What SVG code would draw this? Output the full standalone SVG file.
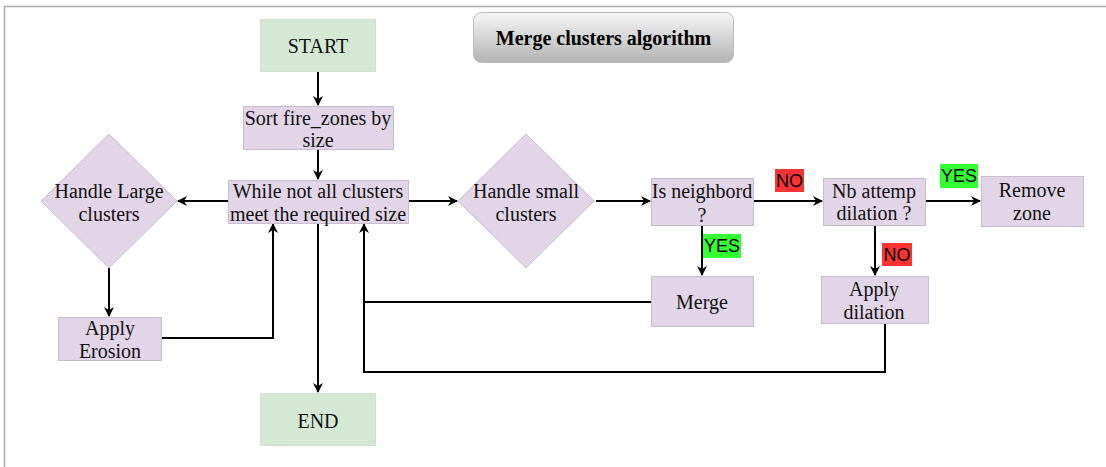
<svg xmlns="http://www.w3.org/2000/svg" width="1106" height="467" viewBox="0 0 1106 467">
<defs>
<linearGradient id="tg" x1="0" y1="0" x2="0" y2="1">
<stop offset="0" stop-color="#f7f7f7"/>
<stop offset="1" stop-color="#b3b3b3"/>
</linearGradient>
<marker id="ah" viewBox="0 0 10 10" refX="9" refY="5" markerWidth="5" markerHeight="5" orient="auto" markerUnits="strokeWidth">
<path d="M0,0 L10,5 L0,10 L3,5 Z" fill="#000"/>
</marker>
<style>
.p{fill:#e1d5e7;stroke:#c8bccf;stroke-width:1}
.g{fill:#d5e8d4;stroke:#d0e2cf;stroke-width:1}
.t{font-family:"Liberation Serif",serif;font-size:20px;fill:#111;text-anchor:middle}
.e{fill:none;stroke:#000;stroke-width:2}
.a{marker-end:url(#ah)}
.lt{font-family:"Liberation Sans",sans-serif;font-size:18px;fill:#000;text-anchor:middle}
</style>
</defs>
<rect width="1106" height="467" fill="#fff"/>
<path d="M4.5,467 V6.5 H1106" fill="none" stroke="#aaa" stroke-width="1.5"/>

<g id="connectors">
<path class="e a" d="M318,71 V105"/>
<path class="e a" d="M318,150 V179"/>
<path class="e a" d="M228,201 H178"/>
<path class="e a" d="M109,268 V316"/>
<path class="e a" d="M161,338 H273 V224"/>
<path class="e a" d="M318,223 V392"/>
<path class="e a" d="M651,302 H364 V224"/>
<path class="e" d="M885,323 V372 H364 V302"/>
<path class="e a" d="M408,201 H457"/>
<path class="e a" d="M596,201 H650"/>
<path class="e a" d="M753,201 H822"/>
<path class="e a" d="M925,201 H980"/>
<path class="e a" d="M702,225 V275"/>
<path class="e a" d="M875,225 V275"/>
</g>

<g id="title">
<rect x="473.5" y="12.5" width="260" height="50" rx="8" fill="url(#tg)" stroke="#bbb" stroke-width="1"/>
<text x="603.5" y="45" style="font-family:'Liberation Serif',serif;font-size:20px;font-weight:bold;text-anchor:middle">Merge clusters algorithm</text>
</g>

<g id="start">
<rect class="g" x="260.5" y="19.5" width="115" height="52"/>
<text class="t" x="318" y="53">START</text>
</g>

<g id="sort">
<rect class="p" x="243.5" y="106.5" width="150" height="43"/>
<text class="t" x="318" y="125">Sort fire_zones by</text>
<text class="t" x="318" y="147">size</text>
</g>

<g id="while">
<rect class="p" x="228.5" y="180.5" width="180" height="43"/>
<text class="t" x="318" y="198">While not all clusters</text>
<text class="t" x="318" y="221">meet the required size</text>
</g>

<g id="large">
<polygon class="p" points="109,134 177,201 109,268 41,201"/>
<text class="t" x="109" y="198">Handle Large</text>
<text class="t" x="109" y="221">clusters</text>
</g>

<g id="erosion">
<rect class="p" x="58.5" y="317.5" width="103" height="43"/>
<text class="t" x="110" y="335">Apply</text>
<text class="t" x="110" y="358">Erosion</text>
</g>

<g id="end">
<rect class="g" x="260.5" y="393.5" width="115" height="52"/>
<text class="t" x="318" y="428">END</text>
</g>

<g id="small">
<polygon class="p" points="526,134 594,201 526,268 458,201"/>
<text class="t" x="526" y="198">Handle small</text>
<text class="t" x="526" y="221">clusters</text>
</g>

<g id="neighbord">
<rect class="p" x="651.5" y="178.5" width="102" height="47"/>
<text class="t" x="702" y="198">Is neighbord</text>
<text class="t" x="702" y="222">?</text>
</g>

<g id="merge">
<rect class="p" x="651.5" y="276.5" width="102" height="50"/>
<text class="t" x="702" y="309">Merge</text>
</g>

<g id="nbattemp">
<rect class="p" x="823.5" y="178.5" width="102" height="47"/>
<text class="t" x="874" y="198">Nb attemp</text>
<text class="t" x="874" y="220">dilation ?</text>
</g>

<g id="remove">
<rect class="p" x="981.5" y="176.5" width="102" height="50"/>
<text class="t" x="1032" y="197">Remove</text>
<text class="t" x="1032" y="220">zone</text>
</g>

<g id="dilation">
<rect class="p" x="821.5" y="276.5" width="107" height="47"/>
<text class="t" x="874" y="296">Apply</text>
<text class="t" x="874" y="319">dilation</text>
</g>

<g id="labels">
<rect x="775" y="169" width="29" height="23" fill="#ff3333"/>
<text class="lt" x="789.5" y="187">NO</text>
<rect x="940" y="164" width="38" height="24" fill="#33ff33"/>
<text class="lt" x="959" y="182">YES</text>
<rect x="703" y="234" width="38" height="24" fill="#33ff33"/>
<text class="lt" x="722" y="252">YES</text>
<rect x="882" y="243" width="30" height="23" fill="#ff3333"/>
<text class="lt" x="897" y="261">NO</text>
</g>
</svg>
